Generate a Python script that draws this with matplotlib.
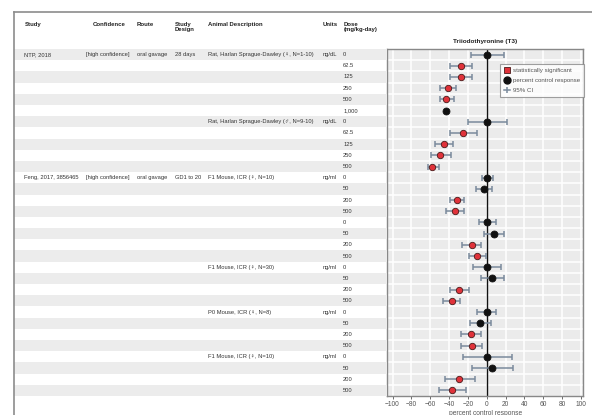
import matplotlib
matplotlib.use('Agg')
import matplotlib.pyplot as plt
import matplotlib.transforms as mtransforms
from matplotlib.lines import Line2D
from matplotlib.patches import Rectangle
import numpy as np

plt.rcParams['font.family'] = ['Liberation Sans', 'DejaVu Sans']

# ---------------- data ----------------
headers = ["Study", "Confidence", "Route", "Study\nDesign", "Animal Description", "Units", "Dose\n(mg/kg-day)"]

study_labels = ["NTP, 2018", "Feng, 2017, 3856465"]
study_rows = [0, 11]
confidence_labels = ["[high confidence]", "[high confidence]"]
route_labels = ["oral gavage", "oral gavage"]
design_labels = ["28 days", "GD1 to 20"]

animal_labels = ["Rat, Harlan Sprague-Dawley (\u2640, N=1-10)",
                 "Rat, Harlan Sprague-Dawley (\u2642, N=9-10)",
                 "F1 Mouse, ICR (\u2640, N=10)",
                 "F1 Mouse, ICR (\u2640, N=30)",
                 "P0 Mouse, ICR (\u2640, N=8)",
                 "F1 Mouse, ICR (\u2640, N=10)"]
animal_rows = [0, 6, 11, 19, 23, 27]
unit_labels = ["ng/dL", "ng/dL", "ng/ml", "ng/ml", "ng/ml", "ng/ml"]

dose_labels = ["0", "62.5", "125", "250", "500", "1,000",
               "0", "62.5", "125", "250", "500",
               "0", "50", "200", "500", "0", "50", "200", "500",
               "0", "50", "200", "500",
               "0", "50", "200", "500",
               "0", "50", "200", "500"]

response = [0, -27.6, -27.6, -41.0, -42.8, -43.6,
            0, -25.3, -45.7, -49.3, -57.8,
            0, -3.3, -31.6, -33.7, 0, 7.9, -16.1, -10.1,
            0, 5.8, -29.2, -37.3,
            0, -6.7, -16.6, -16.2,
            0, 5.8, -29.2, -37.3]
ci_low = [-17.0, -38.9, -38.9, -49.5, -50.0, np.nan,
          -19.6, -38.6, -54.6, -59.0, -62.8,
          -5.5, -11.1, -39.4, -42.9, -8.8, -2.6, -26.0, -18.5,
          -14.9, -6.5, -38.7, -46.1,
          -9.9, -18.0, -27.0, -27.0,
          -25.6, -15.7, -44.7, -51.0]
ci_high = [18.7, -15.5, -15.5, -32.6, -34.8, np.nan,
           21.0, -10.8, -35.5, -38.3, -50.7,
           6.9, 5.8, -23.8, -24.5, 10.0, 18.0, -6.5, -1.2,
           15.4, 18.2, -19.0, -28.1,
           10.2, 4.4, -5.8, -4.7,
           26.7, 27.4, -13.0, -22.0]
significant = [False, True, True, True, True, False,
               False, True, True, True, True,
               False, False, True, True, False, False, True, True,
               False, False, True, True,
               False, False, True, True,
               False, False, True, True]

x_ticks = [-100, -80, -60, -40, -20, 0, 20, 40, 60, 80, 100]
title = "Triiodothyronine (T3)"
xlabel = "percent control response"

# ---------------- figure ----------------
W, H = 592, 415
fig = plt.figure(figsize=(W / 100, H / 100), dpi=100)

ax_l, ax_r, ax_t, ax_b = 387.3, 583.0, 49.0, 396.0
ax = fig.add_axes([ax_l / W, 1 - ax_b / H, (ax_r - ax_l) / W, (ax_b - ax_t) / H])

n = len(dose_labels)
rows = np.arange(n)
ax.set_xlim(-105.6, 102.1)
ax.set_ylim(n - 0.5, -0.5)
ax.set_facecolor('#ebebeb')

# grid
for xv in x_ticks:
    ax.axvline(xv, color='white', lw=1.1, zorder=0.5)
for yv in np.arange(0.5, n - 0.5, 1):
    ax.axhline(yv, color='white', lw=1.1, zorder=0.5)
ax.axvline(0, color='#111111', lw=1.0, zorder=1)

resp = np.array(response)
lo = np.array(ci_low)
hi = np.array(ci_high)
sig = np.array(significant)
err_col = '#7a8a9c'
ax.errorbar(resp, rows, xerr=[resp - lo, hi - resp], fmt='none', ecolor=err_col,
            elinewidth=1.1, capsize=2.2, capthick=1.1, zorder=2)
ax.plot(resp[~sig], rows[~sig], 'o', ms=5.0, mfc='#111111', mec='#111111', mew=0.6, zorder=3)
ax.plot(resp[sig], rows[sig], 'o', ms=4.6, mfc='#e0323a', mec='#4a1a1a', mew=0.6, zorder=3)

ax.set_xticks(x_ticks)
ax.set_yticks([])
ax.tick_params(axis='x', labelsize=4.8, colors='#555555', length=2, width=0.6, pad=1.5)
for s in ax.spines.values():
    s.set_color('#888888')
    s.set_linewidth(1.0)
ax.set_xlabel(xlabel, fontsize=4.8, color='#555555', labelpad=1.5)
ax.set_title(title, fontsize=4.6, fontweight='bold', color='#222222', pad=4.5)

handles = [Line2D([], [], marker='s', ls='none', ms=4.5, mfc='#e0323a', mec='#4a1a1a', mew=0.6),
           Line2D([], [], marker='o', ls='none', ms=5, mfc='#111111', mec='#111111'),
           Line2D([], [], color=err_col, lw=1.1, marker='|', ms=4, mew=1.1)]
leg = ax.legend(handles, ["statistically significant", "percent control response", "95% CI"],
                loc='upper right', bbox_to_anchor=(1.005, 0.957), borderaxespad=0,
                fontsize=4.4, frameon=True, fancybox=False, handlelength=1.0,
                handletextpad=0.5, labelspacing=0.8, borderpad=0.6)
leg.get_frame().set_edgecolor('#888888')
leg.get_frame().set_linewidth(0.8)
for t in leg.get_texts():
    t.set_color('#555555')

# ---------------- table ----------------
trans = mtransforms.blended_transform_factory(fig.transFigure, ax.transData)
tbl_left = 14.0
for r in rows[::2]:
    fig.patches.append(Rectangle((tbl_left / W, r - 0.5), (ax_l - tbl_left) / W, 1.0,
                                 transform=trans, facecolor='#ececec', edgecolor='none', zorder=0))

col_x = [25, 93, 137, 175, 208, 323, 344]
txt_col = '#333333'
fs = 4.15
for hx, h in zip(col_x, headers):
    fig.text(hx / W, 1 - 22 / H, h, fontsize=4.3, fontweight='bold', color='#222222',
             va='top', ha='left', linespacing=1.0)

val_x = [24, 86, 137, 175]
for i, r in enumerate(study_rows):
    for vx, lab in zip(val_x, [study_labels[i], confidence_labels[i], route_labels[i], design_labels[i]]):
        fig.text(vx / W, r, lab, transform=trans, fontsize=fs, color=txt_col, va='center', ha='left')
for r, a, u in zip(animal_rows, animal_labels, unit_labels):
    fig.text(208 / W, r, a, transform=trans, fontsize=fs, color=txt_col, va='center', ha='left')
    fig.text(323 / W, r, u, transform=trans, fontsize=fs, color=txt_col, va='center', ha='left')
for r, d in zip(rows, dose_labels):
    fig.text(343 / W, r, d, transform=trans, fontsize=fs, color=txt_col, va='center', ha='left')

# outer border (top and left)
fig.lines.append(Line2D([tbl_left / W, 1.0], [1 - 12 / H, 1 - 12 / H], transform=fig.transFigure,
                        color='#8c8c8c', lw=1.2))
fig.lines.append(Line2D([tbl_left / W, tbl_left / W], [1 - 12 / H, 0.0], transform=fig.transFigure,
                        color='#8c8c8c', lw=1.2))

fig.savefig('out.png', dpi=100)
